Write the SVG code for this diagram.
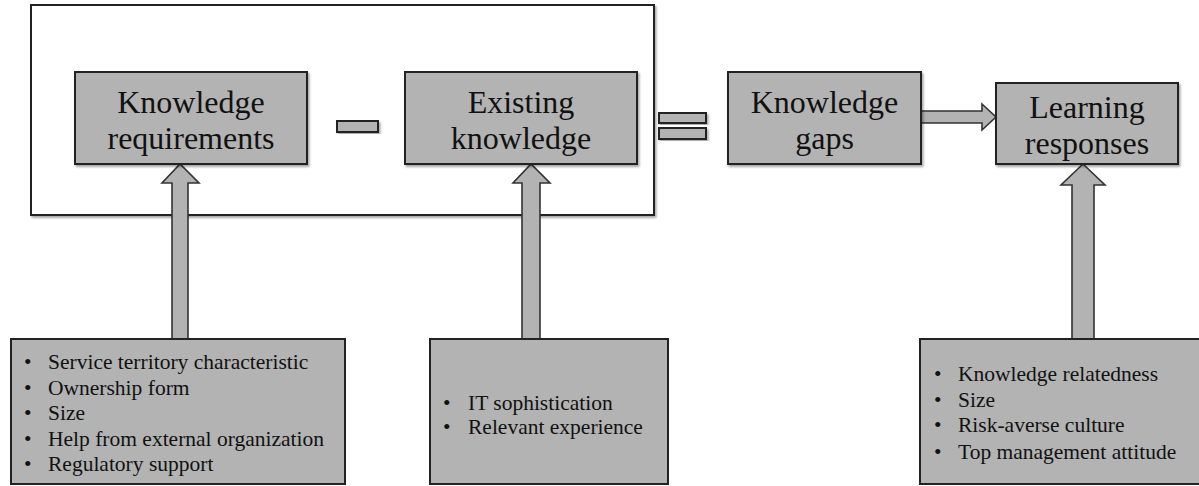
<svg xmlns="http://www.w3.org/2000/svg" width="1199" height="486" viewBox="0 0 1199 486">
<style>
.box{fill:#b3b3b3;stroke:#222;stroke-width:2}
.arr{fill:#b3b3b3;stroke:#333;stroke-width:1.6;stroke-linejoin:miter}
.big{font-size:32px;fill:#111;text-anchor:middle}
.sm{font-size:21.5px;fill:#111}
</style>
<defs>
<filter id="sh" x="-5%" y="-5%" width="115%" height="120%">
<feDropShadow dx="1.5" dy="2" stdDeviation="1.2" flood-color="#000" flood-opacity="0.35"/>
</filter>
</defs>
<rect x="31" y="5" width="623" height="210" fill="#fff" stroke="#222" stroke-width="2" filter="url(#sh)"/>
<g id="connectors">
<path class="arr" d="M172,339 V183 H162 L180,164 L199,183 H188 V339 Z"/>
<path class="arr" d="M522,339 V183 H513 L531,164 L550,183 H540 V339 Z"/>
<path class="arr" d="M1072,339 V185 H1061 L1083,164 L1105,185 H1094 V339 Z"/>
<path class="arr" d="M921,111 H982 V104 L996,117 L982,130 V123 H921 Z"/>
</g>
<g id="minus"><rect class="box" x="337" y="121" width="41" height="11" filter="url(#sh)"/></g>
<g id="equals">
<rect class="box" x="659" y="113" width="47" height="10" filter="url(#sh)"/>
<rect class="box" x="659" y="128" width="47" height="11" filter="url(#sh)"/>
</g>
<g font-family="'Liberation Serif', 'Times New Roman', 'DejaVu Serif', serif">
<g id="knowledge-requirements">
<rect class="box" x="75" y="72" width="232" height="92" filter="url(#sh)"/>
<text class="big" x="191" y="113">Knowledge</text>
<text class="big" x="191" y="149">requirements</text>
</g>
<g id="existing-knowledge">
<rect class="box" x="405" y="72" width="232" height="92" filter="url(#sh)"/>
<text class="big" x="521" y="113">Existing</text>
<text class="big" x="521" y="149">knowledge</text>
</g>
<g id="knowledge-gaps">
<rect class="box" x="728" y="72" width="193" height="92" filter="url(#sh)"/>
<text class="big" x="824.5" y="113">Knowledge</text>
<text class="big" x="824.5" y="149">gaps</text>
</g>
<g id="learning-responses">
<rect class="box" x="996" y="83" width="182" height="81" filter="url(#sh)"/>
<text class="big" x="1087" y="118">Learning</text>
<text class="big" x="1087" y="154">responses</text>
</g>
<g id="factors-requirements">
<rect class="box" x="11" y="339" width="334" height="145"/>
<g class="sm">
<text x="24" y="369">•</text><text x="48" y="369">Service territory characteristic</text>
<text x="24" y="395">•</text><text x="48" y="395">Ownership form</text>
<text x="24" y="420">•</text><text x="48" y="420">Size</text>
<text x="24" y="446">•</text><text x="48" y="446">Help from external organization</text>
<text x="24" y="471">•</text><text x="48" y="471">Regulatory support</text>
</g>
</g>
<g id="factors-existing">
<rect class="box" x="430" y="339" width="238" height="145"/>
<g class="sm">
<text x="443" y="410">•</text><text x="468" y="410">IT sophistication</text>
<text x="443" y="434">•</text><text x="468" y="434">Relevant experience</text>
</g>
</g>
<g id="factors-learning">
<rect class="box" x="920" y="339" width="290" height="145"/>
<g class="sm">
<text x="934" y="381">•</text><text x="958" y="381">Knowledge relatedness</text>
<text x="934" y="407">•</text><text x="958" y="407">Size</text>
<text x="934" y="432">•</text><text x="958" y="432">Risk-averse culture</text>
<text x="934" y="459">•</text><text x="958" y="459">Top management attitude</text>
</g>
</g>
</g>
</svg>
